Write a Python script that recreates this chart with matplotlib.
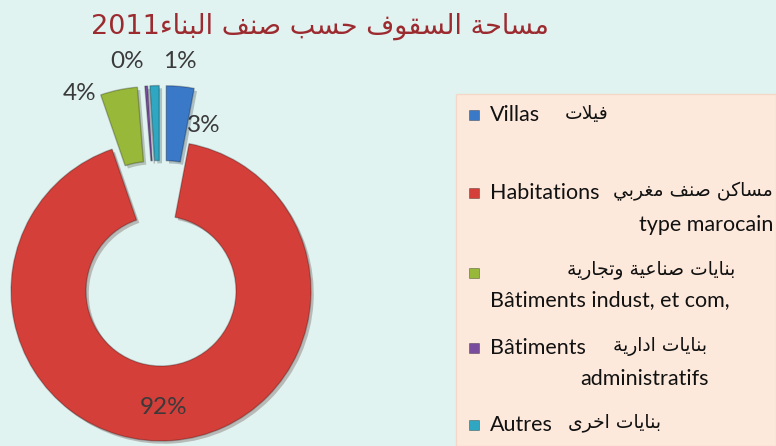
import matplotlib
matplotlib.use("Agg")
import matplotlib.pyplot as plt
from matplotlib.patches import Rectangle
import matplotlib.patheffects as pe

# --- data ---
categories = ["Villas", "Habitations", "Bâtiments indust", "Bâtiments administratifs", "Autres"]
values = [3, 92, 4, 0.3, 1]          # share of roof area (%)
colors = ["#3A78C8", "#D43F3A", "#98B83A", "#7A4C9E", "#2FA6C2"]
explode = [0.37, 0.0, 0.37, 0.37, 0.37]

title_ar = "مساحة السقوف حسب صنف البناء"
title_year = "2011"

# legend lines: (latin, arabic, second line)
legend_ar = ["فيلات", "مساكن صنف مغربي", "بنايات صناعية وتجارية", "بنايات ادارية", "بنايات اخرى"]
legend_fr = ["Villas", "Habitations", "", "Bâtiments", "Autres"]
legend_fr2 = ["", "type marocain", "Bâtiments indust, et com,", "administratifs", ""]

# --- minimal arabic shaping (matplotlib has no complex text layout) ---
FORMS = {
    'ء': ('\uFE80',),
    'ا': ('\uFE8D', '\uFE8E'),
    'ب': ('\uFE8F', '\uFE90', '\uFE91', '\uFE92'),
    'ة': ('\uFE93', '\uFE94'),
    'ت': ('\uFE95', '\uFE96', '\uFE97', '\uFE98'),
    'ج': ('\uFE9D', '\uFE9E', '\uFE9F', '\uFEA0'),
    'ح': ('\uFEA1', '\uFEA2', '\uFEA3', '\uFEA4'),
    'خ': ('\uFEA5', '\uFEA6', '\uFEA7', '\uFEA8'),
    'د': ('\uFEA9', '\uFEAA'),
    'ر': ('\uFEAD', '\uFEAE'),
    'س': ('\uFEB1', '\uFEB2', '\uFEB3', '\uFEB4'),
    'ص': ('\uFEB9', '\uFEBA', '\uFEBB', '\uFEBC'),
    'ع': ('\uFEC9', '\uFECA', '\uFECB', '\uFECC'),
    'غ': ('\uFECD', '\uFECE', '\uFECF', '\uFED0'),
    'ف': ('\uFED1', '\uFED2', '\uFED3', '\uFED4'),
    'ق': ('\uFED5', '\uFED6', '\uFED7', '\uFED8'),
    'ك': ('\uFED9', '\uFEDA', '\uFEDB', '\uFEDC'),
    'ل': ('\uFEDD', '\uFEDE', '\uFEDF', '\uFEE0'),
    'م': ('\uFEE1', '\uFEE2', '\uFEE3', '\uFEE4'),
    'ن': ('\uFEE5', '\uFEE6', '\uFEE7', '\uFEE8'),
    'و': ('\uFEED', '\uFEEE'),
    'ى': ('\uFEEF', '\uFEF0'),
    'ي': ('\uFEF1', '\uFEF2', '\uFEF3', '\uFEF4'),
}


def shape(txt):
    out = []
    n = len(txt)
    i = 0
    while i < n:
        c = txt[i]
        prev_j = i > 0 and txt[i - 1] in FORMS and len(FORMS[txt[i - 1]]) == 4
        if c == 'ل' and i + 1 < n and txt[i + 1] == 'ا':
            out.append('\uFEFC' if prev_j else '\uFEFB')
            i += 2
            continue
        if c not in FORMS:
            out.append(c)
            i += 1
            continue
        f = FORMS[c]
        next_j = len(f) == 4 and i + 1 < n and txt[i + 1] in FORMS and len(FORMS[txt[i + 1]]) > 1
        prev_j = prev_j and len(f) > 1
        if prev_j and next_j:
            out.append(f[3])
        elif next_j:
            out.append(f[2])
        elif prev_j:
            out.append(f[1])
        else:
            out.append(f[0])
        i += 1
    return "".join(reversed(out))


W, H = 776, 446
BG = "#E1F3F1"
fig = plt.figure(figsize=(W / 100, H / 100), dpi=100, facecolor=BG)
ax = fig.add_axes([0, 0, 1, 1])
ax.set_facecolor(BG)

LAT = ["Lato", "DejaVu Sans"]
AR = ["DejaVu Sans"]
R = 150

# doughnut (explode is in data units for pie, so scale by the radius)
wedges, _ = ax.pie(values, colors=colors, explode=[e * R for e in explode],
                   startangle=90, counterclock=False, radius=R,
                   center=(161, H - 291), wedgeprops=dict(width=75, linewidth=1.0),
                   frame=True)
for w in wedges:
    w.set_edgecolor(matplotlib.colors.to_rgba("black", 0.25))
    w.set_path_effects([pe.SimplePatchShadow(offset=(2, -2), alpha=0.25), pe.Normal()])
ax.set_xlim(0, W)
ax.set_ylim(0, H)
ax.set_aspect("equal")
ax.axis("off")

# percent labels
total = sum(values)
pct = ["%.0f%%" % (v / total * 100) for v in values]
label_pos = [(204, 126), (164, 408), (80, 93), (127, 62), (180, 62)]
for i, (p, (x, y)) in enumerate(zip(pct, label_pos)):
    ax.text(x, H - y, p, ha="center", va="center", fontsize=17.5, color="#3a3a3a",
            family=LAT, zorder=0.5 if i == 0 else 5)

# title
ax.text(320, H - 26, title_year + shape(title_ar), ha="center", va="center",
        fontsize=19.5, color="#9C2B30", family=AR)

# legend box
ax.add_patch(Rectangle((456, 0), W - 456, H - 94, facecolor="#FDE9DC",
                       edgecolor="#F3D8C8", linewidth=1, zorder=1))

rows_y = [115, 193, 273, 348, 425]
for c, y in zip(colors, rows_y):
    ax.add_patch(Rectangle((469, H - y - 5), 10, 10, facecolor=c,
                           edgecolor=matplotlib.colors.to_rgba("black", 0.35),
                           linewidth=0.6, zorder=3))

FS = 15.5
ARFS = 13.5
TC = "#111111"
# Villas
ax.text(490, H - 115, legend_fr[0], ha="left", va="center", fontsize=FS, family=LAT, color=TC, zorder=4)
ax.text(608, H - 113, shape(legend_ar[0]), ha="right", va="center", fontsize=ARFS, family=AR, color=TC, zorder=4)
# Habitations
ax.text(490, H - 193, legend_fr[1], ha="left", va="center", fontsize=FS, family=LAT, color=TC, zorder=4)
ax.text(773, H - 191, shape(legend_ar[1]), ha="right", va="center", fontsize=ARFS, family=AR, color=TC, zorder=4)
ax.text(773, H - 225, legend_fr2[1], ha="right", va="center", fontsize=FS, family=LAT, color=TC, zorder=4)
# industriel
ax.text(735, H - 270, shape(legend_ar[2]), ha="right", va="center", fontsize=ARFS, family=AR, color=TC, zorder=4)
ax.text(490, H - 300, legend_fr2[2], ha="left", va="center", fontsize=FS, family=LAT, color=TC, zorder=4)
# administratifs
ax.text(490, H - 348, legend_fr[3], ha="left", va="center", fontsize=FS, family=LAT, color=TC, zorder=4)
ax.text(707, H - 346, shape(legend_ar[3]), ha="right", va="center", fontsize=ARFS, family=AR, color=TC, zorder=4)
ax.text(709, H - 379, legend_fr2[3], ha="right", va="center", fontsize=FS, family=LAT, color=TC, zorder=4)
# Autres
ax.text(490, H - 425, legend_fr[4], ha="left", va="center", fontsize=FS, family=LAT, color=TC, zorder=4)
ax.text(661, H - 423, shape(legend_ar[4]), ha="right", va="center", fontsize=ARFS, family=AR, color=TC, zorder=4)

fig.savefig("out.png", dpi=100, facecolor=BG)
